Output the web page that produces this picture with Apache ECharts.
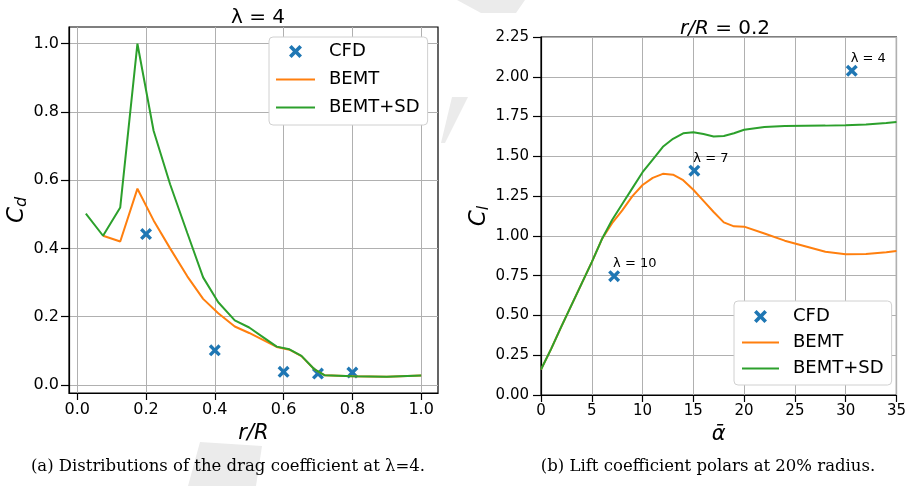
<!DOCTYPE html>
<html>
<head>
<meta charset="utf-8">
<script src="https://cdn.jsdelivr.net/npm/echarts@6/dist/echarts.min.js"></script>
<style>
  html, body { margin: 0; padding: 0; background: #fff; }
  #main { width: 909px; height: 486px; }
</style>
</head>
<body>
<div id="main"></div>
<script>
// (a) drag coefficient along the blade, lambda = 4
const cfdR = [0.2, 0.4, 0.6, 0.7, 0.8];
const cfdCd = [0.442, 0.101, 0.038, 0.033, 0.036];
const bemtR = [0.075, 0.125, 0.175, 0.222, 0.27, 0.32, 0.366, 0.41, 0.458, 0.50, 0.54, 0.58, 0.617, 0.652, 0.69, 0.72, 0.8, 0.9, 1.0];
const bemtCd = [0.437, 0.42, 0.575, 0.482, 0.40, 0.318, 0.252, 0.21, 0.171, 0.152, 0.132, 0.111, 0.103, 0.084, 0.045, 0.028, 0.025, 0.024, 0.027];
const sdR = [0.025, 0.075, 0.125, 0.175, 0.222, 0.27, 0.32, 0.366, 0.41, 0.458, 0.50, 0.54, 0.58, 0.617, 0.652, 0.69, 0.72, 0.8, 0.9, 1.0];
const sdCd = [0.502, 0.437, 0.52, 1.0, 0.745, 0.588, 0.445, 0.315, 0.242, 0.189, 0.168, 0.14, 0.112, 0.104, 0.085, 0.045, 0.028, 0.025, 0.024, 0.027];
const leftTicks = [0, 0.2, 0.4, 0.6, 0.8, 1.0];

// (b) lift polars at r/R = 0.2
const cfdAlpha = [7.2, 15.1, 30.6];
const cfdCl = [0.747, 1.41, 2.038];
const cfdNames = ['λ = 10', 'λ = 7', 'λ = 4'];
const alpha = [0, 1, 2, 3, 4, 5, 6, 7, 8, 9, 10, 11, 12, 13, 14, 15, 16, 17, 18, 19, 20, 22, 24, 26, 28, 30, 32, 34, 35];
const clBemt = [0.16, 0.29, 0.43, 0.565, 0.70, 0.835, 0.98, 1.08, 1.16, 1.25, 1.32, 1.365, 1.39, 1.385, 1.35, 1.29, 1.22, 1.15, 1.085, 1.06, 1.058, 1.015, 0.97, 0.935, 0.90, 0.885, 0.886, 0.897, 0.905];
const clBemtSd = [0.16, 0.29, 0.43, 0.565, 0.70, 0.835, 0.98, 1.10, 1.20, 1.30, 1.40, 1.48, 1.56, 1.61, 1.645, 1.652, 1.64, 1.625, 1.628, 1.645, 1.667, 1.684, 1.69, 1.692, 1.693, 1.695, 1.70, 1.71, 1.716];

const BLUE = '#1f77b4', ORANGE = '#ff7f0e', GREEN = '#2ca02c';
const FONT = 'DejaVu Sans';
const xMark = 'path://M2,0 L5,3 L8,0 L10,2 L7,5 L10,8 L8,10 L5,7 L2,10 L0,8 L3,5 L0,2 Z';

const pairs = (xs, ys) => xs.map((x, i) => [x, ys[i]]);

const chart = echarts.init(document.getElementById('main'), null, { renderer: 'canvas' });

const axisCommon = {
  axisLine: { show: true, onZero: false, lineStyle: { color: '#000', width: 1.2 } },
  axisTick: { show: true, inside: false, length: 7, lineStyle: { color: '#000', width: 1.2 } },
  splitLine: { show: true, lineStyle: { color: '#b0b0b0', width: 1 } }
};

// legend entries: hide the dot ECharts puts on line icons
const legendData = [
  { name: 'CFD' },
  { name: 'BEMT', itemStyle: { opacity: 0 } },
  { name: 'BEMT+SD', itemStyle: { opacity: 0 } }
];

// faint watermark behind the figure
const wm = { fill: '#ebebeb' };

const option = {
  animation: false,
  textStyle: { fontFamily: FONT },
  title: [
    {
      text: 'λ = 4', left: 253, top: 3, textAlign: 'center',
      textStyle: { fontFamily: FONT, fontSize: 20, fontWeight: 'normal', color: '#000' }
    },
    {
      text: '{i|r/R} = 0.2', left: 720, top: 14, textAlign: 'center',
      textStyle: {
        fontFamily: FONT, fontSize: 20, fontWeight: 'normal', color: '#000',
        rich: { i: { fontFamily: FONT, fontSize: 20, fontStyle: 'italic', color: '#000' } }
      }
    }
  ],
  grid: [
    { left: 69, top: 27, width: 369, height: 366, show: true, borderColor: '#000', borderWidth: 1.2, backgroundColor: 'transparent' },
    { left: 541, top: 37, width: 359, height: 358, show: true, borderColor: '#000', borderWidth: 1.2, backgroundColor: 'transparent' }
  ],
  xAxis: [
    Object.assign({}, axisCommon, {
      type: 'value', gridIndex: 0, min: -0.024, max: 1.049,
      axisTick: Object.assign({}, axisCommon.axisTick, { customValues: leftTicks }),
      axisLabel: { customValues: leftTicks, formatter: v => v.toFixed(1), fontSize: 16, color: '#000', margin: 9, fontFamily: FONT },
      name: '{i|r/R}', nameLocation: 'middle', nameGap: 29,
      nameTextStyle: { rich: { i: { fontFamily: FONT, fontSize: 21, fontStyle: 'italic', color: '#000' } } }
    }),
    Object.assign({}, axisCommon, {
      type: 'value', gridIndex: 1, min: 0, max: 35, interval: 5,
      axisLabel: { fontSize: 15, color: '#000', margin: 9, fontFamily: FONT },
      name: '{i|ᾱ}', nameLocation: 'middle', nameGap: 26,
      nameTextStyle: { rich: { i: { fontFamily: FONT, fontSize: 21, fontStyle: 'italic', color: '#000' } } }
    })
  ],
  yAxis: [
    Object.assign({}, axisCommon, {
      type: 'value', gridIndex: 0, min: -0.024, max: 1.049,
      axisTick: Object.assign({}, axisCommon.axisTick, { length: 8, customValues: leftTicks }),
      axisLabel: { customValues: leftTicks, formatter: v => v.toFixed(1), fontSize: 16, color: '#000', margin: 10, fontFamily: FONT },
      name: '{c|C}{s|d}', nameLocation: 'middle', nameGap: 33,
      nameTextStyle: {
        rich: {
          c: { fontFamily: FONT, fontSize: 23, fontStyle: 'italic', color: '#000' },
          s: { fontFamily: FONT, fontSize: 16, fontStyle: 'italic', color: '#000', padding: [10, 0, 0, 0] }
        }
      }
    }),
    Object.assign({}, axisCommon, {
      type: 'value', gridIndex: 1, min: 0, max: 2.25, interval: 0.25,
      axisTick: Object.assign({}, axisCommon.axisTick, { length: 8 }),
      axisLabel: { formatter: v => v.toFixed(2), fontSize: 15, color: '#000', margin: 12, fontFamily: FONT },
      name: '{c|C}{s|l}', nameLocation: 'middle', nameGap: 42,
      nameTextStyle: {
        rich: {
          c: { fontFamily: FONT, fontSize: 23, fontStyle: 'italic', color: '#000' },
          s: { fontFamily: FONT, fontSize: 16, fontStyle: 'italic', color: '#000', padding: [10, 0, 0, 0] }
        }
      }
    })
  ],
  legend: [
    {
      orient: 'vertical', left: 269, top: 37,
      data: legendData,
      itemWidth: 39, itemHeight: 13, itemGap: 7,
      padding: [4, 8, 7, 6],
      backgroundColor: '#fff', borderColor: '#d0d0d0', borderWidth: 1, borderRadius: 4,
      textStyle: { fontFamily: FONT, fontSize: 18, color: '#000', padding: [0, 0, 0, 9], lineHeight: 21 }
    },
    {
      orient: 'vertical', left: 734, top: 301,
      data: legendData,
      itemWidth: 37, itemHeight: 13, itemGap: 5,
      padding: [5, 8, 6, 7],
      backgroundColor: '#fff', borderColor: '#d0d0d0', borderWidth: 1, borderRadius: 4,
      textStyle: { fontFamily: FONT, fontSize: 18, color: '#000', padding: [0, 0, 0, 9], lineHeight: 21 }
    }
  ],
  series: [
    {
      name: 'CFD', type: 'scatter', xAxisIndex: 0, yAxisIndex: 0,
      symbol: xMark, symbolSize: 12, symbolKeepAspect: true,
      itemStyle: { color: BLUE, opacity: 1 },
      data: pairs(cfdR, cfdCd)
    },
    {
      name: 'BEMT', type: 'line', xAxisIndex: 0, yAxisIndex: 0,
      symbol: 'none', lineStyle: { color: ORANGE, width: 2 }, itemStyle: { color: ORANGE },
      data: pairs(bemtR, bemtCd)
    },
    {
      name: 'BEMT+SD', type: 'line', xAxisIndex: 0, yAxisIndex: 0,
      symbol: 'none', lineStyle: { color: GREEN, width: 2 }, itemStyle: { color: GREEN },
      data: pairs(sdR, sdCd)
    },
    {
      name: 'CFD', type: 'scatter', xAxisIndex: 1, yAxisIndex: 1,
      symbol: xMark, symbolSize: 12, symbolKeepAspect: true,
      itemStyle: { color: BLUE, opacity: 1 },
      label: {
        show: true, position: 'top', align: 'left', distance: 0, offset: [-1, 0],
        formatter: '{b}', fontFamily: FONT, fontSize: 13, color: '#000'
      },
      data: cfdAlpha.map((a, i) => ({ name: cfdNames[i], value: [a, cfdCl[i]] }))
    },
    {
      name: 'BEMT', type: 'line', xAxisIndex: 1, yAxisIndex: 1,
      symbol: 'none', lineStyle: { color: ORANGE, width: 2 }, itemStyle: { color: ORANGE },
      data: pairs(alpha, clBemt)
    },
    {
      name: 'BEMT+SD', type: 'line', xAxisIndex: 1, yAxisIndex: 1,
      symbol: 'none', lineStyle: { color: GREEN, width: 2 }, itemStyle: { color: GREEN },
      data: pairs(alpha, clBemtSd)
    }
  ],
  graphic: [
    { type: 'polygon', z: -10, silent: true, shape: { points: [[457, 0], [525, 0], [516, 13], [481, 13]] }, style: wm },
    { type: 'polygon', z: -10, silent: true, shape: { points: [[452, 97], [468, 97], [445, 143], [441, 143]] }, style: wm },
    { type: 'polygon', z: -10, silent: true, shape: { points: [[200, 442], [262, 446], [256, 486], [188, 486]] }, style: wm },
    {
      type: 'text', x: 228, y: 458,
      style: { text: '(a) Distributions of the drag coefficient at λ=4.', font: '16.5px "DejaVu Serif"', fill: '#000', align: 'center' }
    },
    {
      type: 'text', x: 708, y: 458,
      style: { text: '(b) Lift coefficient polars at 20% radius.', font: '16.5px "DejaVu Serif"', fill: '#000', align: 'center' }
    }
  ]
};

chart.setOption(option);
window.addEventListener('resize', () => chart.resize());
</script>
</body>
</html>
